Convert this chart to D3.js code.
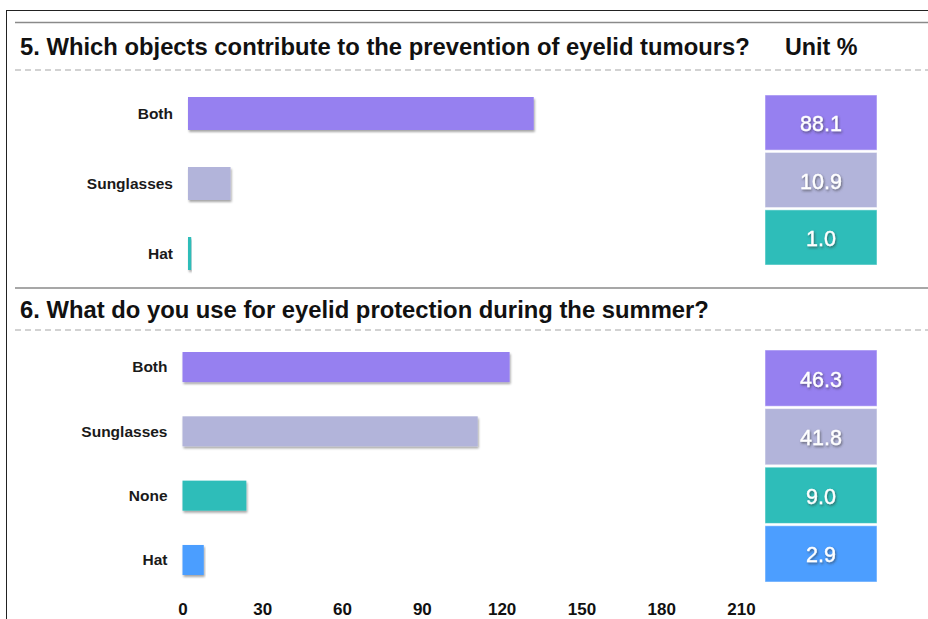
<!DOCTYPE html>
<html>
<head>
<meta charset="utf-8">
<script src="https://cdn.jsdelivr.net/npm/d3@7"></script>
<style>
  html, body { margin: 0; padding: 0; background: #fff; }
  svg { display: block; font-family: "Liberation Sans", Arial, Helvetica, sans-serif; }
</style>
</head>
<body>
<svg id="chart" width="928" height="619"></svg>
<script>
// Survey answers: bar lengths are respondent counts, boxes give the share in %
const q5Title = "5. Which objects contribute to the prevention of eyelid tumours?";
const q5Categories = ["Both", "Sunglasses", "Hat"];
const q5Counts = [130, 16, 1.2];
const q5Percent = [88.1, 10.9, 1.0];

const q6Title = "6. What do you use for eyelid protection during the summer?";
const q6Categories = ["Both", "Sunglasses", "None", "Hat"];
const q6Counts = [123, 111, 24, 8];
const q6Percent = [46.3, 41.8, 9.0, 2.9];

const unitLabel = "Unit %";
const tickValues = [0, 30, 60, 90, 120, 150, 180, 210];

const q5Colors = ["#9680F0", "#B2B4DA", "#2EBDB9"];
const q6Colors = ["#9680F0", "#B2B4DA", "#2EBDB9", "#4C9EFF"];

const W = 928, H = 619;
const svg = d3.select("#chart");
const defs = svg.append("defs");

defs.append("filter").attr("id", "barShadow")
  .attr("x", "-5%").attr("y", "-20%").attr("width", "115%").attr("height", "160%")
  .append("feDropShadow")
  .attr("dx", 1).attr("dy", 2).attr("stdDeviation", 1.3)
  .attr("flood-color", "#000").attr("flood-opacity", 0.35);

defs.append("filter").attr("id", "textShadow")
  .attr("x", "-20%").attr("y", "-30%").attr("width", "140%").attr("height", "170%")
  .append("feDropShadow")
  .attr("dx", 1).attr("dy", 1.5).attr("stdDeviation", 1)
  .attr("flood-color", "#333").attr("flood-opacity", 0.6);

// Frame lines
svg.append("line").attr("x1", 6.5).attr("x2", W).attr("y1", 10.5).attr("y2", 10.5)
  .attr("stroke", "#222").attr("stroke-width", 1);
svg.append("line").attr("x1", 6.5).attr("x2", 6.5).attr("y1", 10).attr("y2", H)
  .attr("stroke", "#222").attr("stroke-width", 1);

const countExtent = [0, 210];

function drawPanel(opt) {
  const g = svg.append("g");

  g.append("line").attr("x1", 15).attr("x2", W).attr("y1", opt.ruleY).attr("y2", opt.ruleY)
    .attr("stroke", "#8a8a8a").attr("stroke-width", 1.5);

  g.append("text").attr("x", 20).attr("y", opt.titleY)
    .attr("font-size", 23.8).attr("font-weight", "bold").attr("fill", "#111")
    .text(opt.title);

  if (opt.unit) {
    g.append("text").attr("x", 785).attr("y", opt.titleY)
      .attr("font-size", 23.3).attr("font-weight", "bold").attr("fill", "#111")
      .text(opt.unit);
  }

  g.append("line").attr("x1", 15).attr("x2", W).attr("y1", opt.dashY).attr("y2", opt.dashY)
    .attr("stroke", "#a5a5a5").attr("stroke-width", 1.2).attr("stroke-dasharray", "6,4");

  const x = d3.scaleLinear().domain(countExtent).range([opt.x0, opt.x0 + 558.5]);
  const y = d3.scaleBand().domain(opt.categories).range(opt.barRange)
    .paddingInner(opt.pad).paddingOuter(0);

  const rows = opt.categories.map((c, i) => ({ c, v: opt.counts[i], p: opt.percent[i], col: opt.colors[i] }));

  g.selectAll("rect.bar").data(rows).join("rect")
    .attr("class", "bar")
    .attr("x", x(0))
    .attr("y", d => y(d.c))
    .attr("width", d => x(d.v) - x(0))
    .attr("height", y.bandwidth())
    .attr("fill", d => d.col)
    .attr("filter", "url(#barShadow)");

  g.selectAll("text.cat").data(rows).join("text")
    .attr("class", "cat")
    .attr("x", x(0) - 15)
    .attr("y", d => y(d.c) + y.bandwidth() / 2)
    .attr("dy", "0.35em")
    .attr("text-anchor", "end")
    .attr("font-size", 15.5).attr("font-weight", "bold").attr("fill", "#1a1a1a")
    .text(d => d.c);

  // Percentage boxes
  const yb = d3.scaleBand().domain(opt.categories).range(opt.boxRange)
    .paddingInner(0.04).paddingOuter(0);

  g.selectAll("rect.box").data(rows).join("rect")
    .attr("class", "box")
    .attr("x", 765).attr("width", 112)
    .attr("y", d => yb(d.c)).attr("height", yb.bandwidth())
    .attr("fill", d => d.col)
    .attr("stroke", "#ffffff").attr("stroke-opacity", 0.5).attr("stroke-width", 1);

  g.selectAll("text.pct").data(rows).join("text")
    .attr("class", "pct")
    .attr("x", 821)
    .attr("y", d => yb(d.c) + yb.bandwidth() / 2 + 1)
    .attr("dy", "0.35em")
    .attr("text-anchor", "middle")
    .attr("font-size", 21.5).attr("fill", "#fff")
    .attr("stroke", "#fff").attr("stroke-width", 0.35)
    .attr("filter", "url(#textShadow)")
    .text(d => d3.format(".1f")(d.p));

  return x;
}

drawPanel({
  title: q5Title, unit: unitLabel, ruleY: 22.5, titleY: 55, dashY: 70,
  categories: q5Categories, counts: q5Counts, percent: q5Percent, colors: q5Colors,
  x0: 188, barRange: [97, 270], pad: 37 / 70, boxRange: [95, 265]
});

const x6 = drawPanel({
  title: q6Title, unit: null, ruleY: 288, titleY: 318, dashY: 330,
  categories: q6Categories, counts: q6Counts, percent: q6Percent, colors: q6Colors,
  x0: 182.5, barRange: [352, 575], pad: 0.533, boxRange: [350, 582]
});

// Count axis under the lower panel
const axis = svg.append("g")
  .attr("transform", "translate(0,603)")
  .call(d3.axisBottom(x6).tickValues(tickValues).tickSize(0).tickPadding(0).tickFormat(d3.format("d")));
axis.select(".domain").remove();
axis.selectAll("text")
  .attr("font-family", "'Liberation Sans', Arial, Helvetica, sans-serif")
  .attr("font-size", 17).attr("font-weight", "bold").attr("fill", "#111")
  .attr("dy", "0.71em");
</script>
</body>
</html>
